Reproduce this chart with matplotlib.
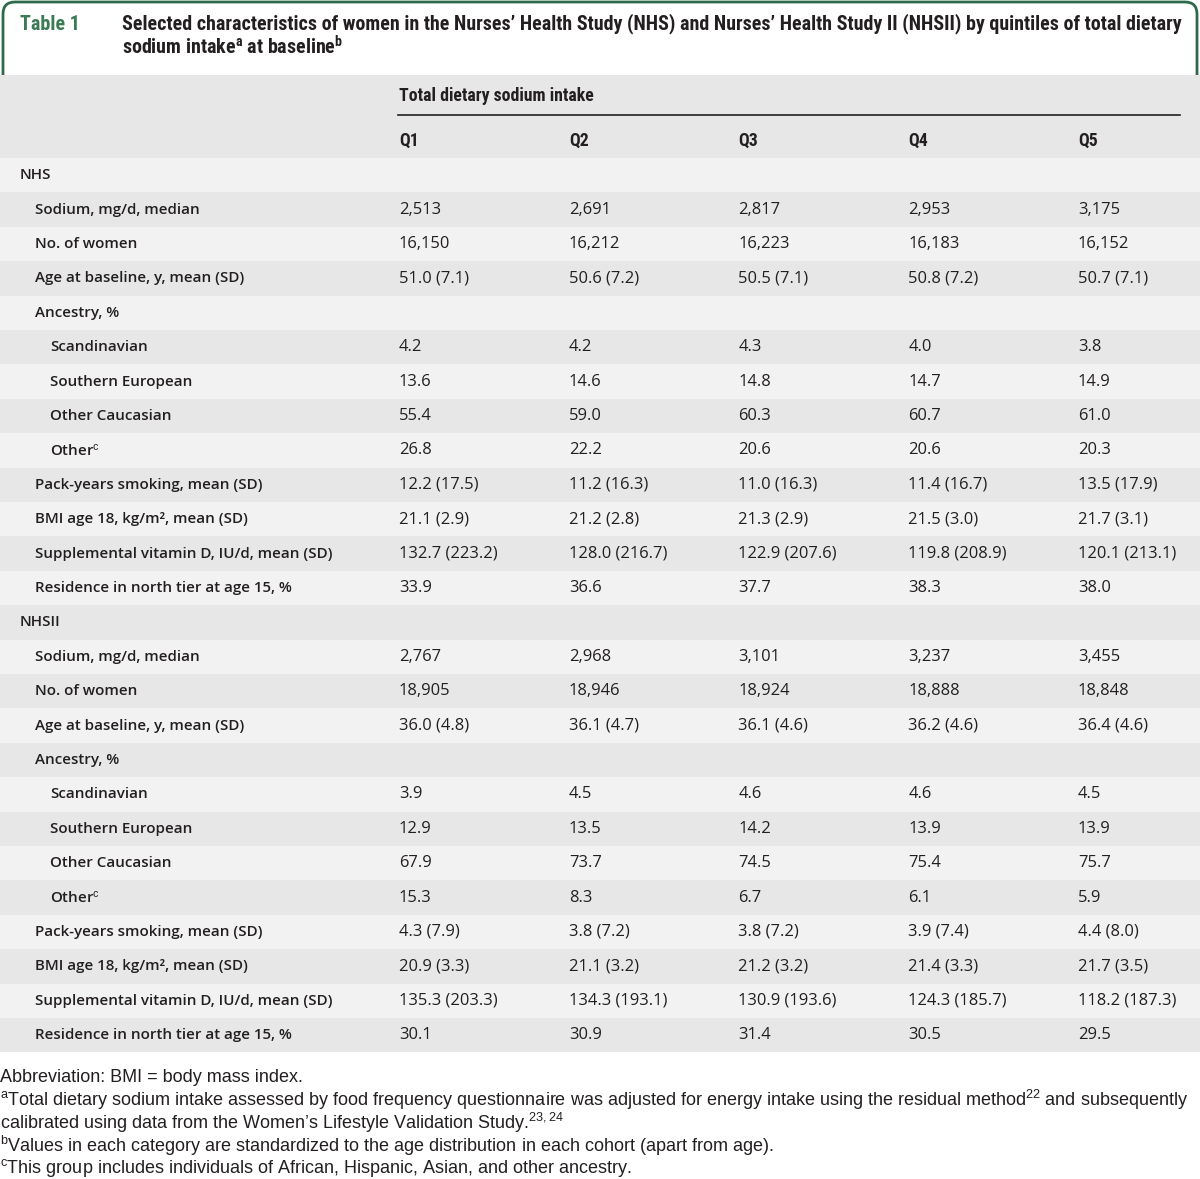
import matplotlib
matplotlib.use("Agg")
import matplotlib.pyplot as plt
import numpy as np
from matplotlib import font_manager
from matplotlib.patches import FancyBboxPatch, Rectangle

available = {f.name for f in font_manager.fontManager.ttflist}


def pick(*names):
    for n in names:
        if n in available:
            return n
    return "DejaVu Sans"


NARROW = pick("Roboto Condensed", "Liberation Sans Narrow", "Liberation Sans")
BODY = pick("Open Sans", "Lato", "Liberation Sans")
LABEL = pick("Open Sans", "Lato", "Liberation Sans")
NOTE = pick("Liberation Sans", "Roboto")

plt.rcParams["mathtext.fontset"] = "custom"
plt.rcParams["mathtext.rm"] = NOTE
plt.rcParams["mathtext.it"] = NOTE
plt.rcParams["mathtext.bf"] = NARROW + ":bold"

# ---- data -------------------------------------------------------------
quintiles = ["Q1", "Q2", "Q3", "Q4", "Q5"]

nhs_sodium = [2513, 2691, 2817, 2953, 3175]
nhs_women = [16150, 16212, 16223, 16183, 16152]
nhs_age = ["51.0 (7.1)", "50.6 (7.2)", "50.5 (7.1)", "50.8 (7.2)", "50.7 (7.1)"]
nhs_scand = [4.2, 4.2, 4.3, 4.0, 3.8]
nhs_south = [13.6, 14.6, 14.8, 14.7, 14.9]
nhs_cauc = [55.4, 59.0, 60.3, 60.7, 61.0]
nhs_other = [26.8, 22.2, 20.6, 20.6, 20.3]
nhs_pack = ["12.2 (17.5)", "11.2 (16.3)", "11.0 (16.3)", "11.4 (16.7)", "13.5 (17.9)"]
nhs_bmi = ["21.1 (2.9)", "21.2 (2.8)", "21.3 (2.9)", "21.5 (3.0)", "21.7 (3.1)"]
nhs_vitd = ["132.7 (223.2)", "128.0 (216.7)", "122.9 (207.6)", "119.8 (208.9)", "120.1 (213.1)"]
nhs_north = [33.9, 36.6, 37.7, 38.3, 38.0]

nhs2_sodium = [2767, 2968, 3101, 3237, 3455]
nhs2_women = [18905, 18946, 18924, 18888, 18848]
nhs2_age = ["36.0 (4.8)", "36.1 (4.7)", "36.1 (4.6)", "36.2 (4.6)", "36.4 (4.6)"]
nhs2_scand = [3.9, 4.5, 4.6, 4.6, 4.5]
nhs2_south = [12.9, 13.5, 14.2, 13.9, 13.9]
nhs2_cauc = [67.9, 73.7, 74.5, 75.4, 75.7]
nhs2_other = [15.3, 8.3, 6.7, 6.1, 5.9]
nhs2_pack = ["4.3 (7.9)", "3.8 (7.2)", "3.8 (7.2)", "3.9 (7.4)", "4.4 (8.0)"]
nhs2_bmi = ["20.9 (3.3)", "21.1 (3.2)", "21.2 (3.2)", "21.4 (3.3)", "21.7 (3.5)"]
nhs2_vitd = ["135.3 (203.3)", "134.3 (193.1)", "130.9 (193.6)", "124.3 (185.7)", "118.2 (187.3)"]
nhs2_north = [30.1, 30.9, 31.4, 30.5, 29.5]


def fmt(vals):
    out = []
    for v in vals:
        if isinstance(v, str):
            out.append(v)
        elif isinstance(v, int):
            out.append(f"{v:,}")
        else:
            out.append(f"{v:.1f}")
    return out


def cohort(name, sodium, women, age, scand, south, cauc, other, pack, bmi, vitd, north):
    return [
        (name, 0, None),
        ("Sodium, mg/d, median", 1, sodium),
        ("No. of women", 1, women),
        ("Age at baseline, y, mean (SD)", 1, age),
        ("Ancestry, %", 1, None),
        ("Scandinavian", 2, scand),
        ("Southern European", 2, south),
        ("Other Caucasian", 2, cauc),
        (r"Other$^{\mathrm{c}}$", 2, other),
        ("Pack-years smoking, mean (SD)", 1, pack),
        ("BMI age 18, kg/m², mean (SD)", 1, bmi),
        ("Supplemental vitamin D, IU/d, mean (SD)", 1, vitd),
        ("Residence in north tier at age 15, %", 1, north),
    ]


rows = cohort("NHS", nhs_sodium, nhs_women, nhs_age, nhs_scand, nhs_south,
              nhs_cauc, nhs_other, nhs_pack, nhs_bmi, nhs_vitd, nhs_north) + \
    cohort("NHSII", nhs2_sodium, nhs2_women, nhs2_age, nhs2_scand, nhs2_south,
           nhs2_cauc, nhs2_other, nhs2_pack, nhs2_bmi, nhs2_vitd, nhs2_north)

footnotes = [
    "Abbreviation: BMI = body mass index.",
    r"$^{\mathrm{a}}$Total dietary sodium intake assessed by food frequency questionnaire was "
    r"adjusted for energy intake using the residual method$^{22}$ and subsequently",
    r"calibrated using data from the Women’s Lifestyle Validation Study.$^{23,24}$",
    r"$^{\mathrm{b}}$Values in each category are standardized to the age distribution in each "
    r"cohort (apart from age).",
    r"$^{\mathrm{c}}$This group includes individuals of African, Hispanic, Asian, and other ancestry.",
]

# ---- style -------------------------------------------------------------
GREEN = "#2d6a4a"
DARK = "#e6e7e6"
LIGHT = "#f2f2f2"
INK = "#231f20"
W, H = 1200, 1179

fig = plt.figure(figsize=(W / 100, H / 100), dpi=100)
ax = fig.add_axes([0, 0, 1, 1])
ax.set_xlim(0, W)
ax.set_ylim(H, 0)
ax.axis("off")

# title box
box = FancyBboxPatch((3, 2), W - 6, 140, boxstyle="round,pad=0,rounding_size=12",
                     facecolor="white", edgecolor=GREEN, linewidth=2.0, zorder=1)
ax.add_patch(box)
ax.text(20, 24, "Table 1", fontfamily=NARROW, fontweight="bold", fontsize=14.5,
        color="#3b7a57", va="center", zorder=5)
ax.text(122, 24, "Selected characteristics of women in the Nurses’ Health Study (NHS) and "
        "Nurses’ Health Study II (NHSII) by quintiles of total dietary",
        fontfamily=NARROW, fontweight="bold", fontsize=14.4, color=INK, va="center", zorder=5)
ax.text(122, 47, r"sodium intake$^{\mathbf{a}}$ at baseline$^{\mathbf{b}}$",
        fontfamily=NARROW, fontweight="bold", fontsize=14.4, color=INK, va="center", zorder=5)

# header
top, header_h, row_h = 75, 83, 34.4
ax.add_patch(Rectangle((0, top), W, header_h, facecolor=DARK, edgecolor="none", zorder=2))
col_x = np.linspace(399, 1078, len(quintiles))
ax.text(col_x[0], 96, "Total dietary sodium intake", fontfamily=NARROW, fontweight="bold",
        fontsize=12.8, color=INK, va="center", zorder=5)
ax.plot([col_x[0] - 1, 1180], [115, 115], color=INK, lw=1.2, zorder=5)
for x, q in zip(col_x, quintiles):
    ax.text(x, 141, q, fontfamily=NARROW, fontweight="bold", fontsize=12.8,
            color=INK, va="center", zorder=5)

# body rows
indent = [20, 35, 50]
y0 = top + header_h
for i, (label, level, vals) in enumerate(rows):
    ytop = y0 + i * row_h
    ax.add_patch(Rectangle((0, ytop), W, row_h, facecolor=DARK if i % 2 else LIGHT,
                           edgecolor="none", zorder=2))
    yc = ytop + row_h / 2
    ax.text(indent[level], yc, label, fontfamily=LABEL, fontweight="semibold",
            fontsize=10.9, color=INK, va="center", zorder=5)
    if vals is not None:
        for x, s in zip(col_x, fmt(vals)):
            ax.text(x, yc, s, fontfamily=BODY, fontsize=11.9, color=INK,
                    va="center", zorder=5)

# footnotes
fy = y0 + len(rows) * row_h + 25
for j, line in enumerate(footnotes):
    ax.text(0, fy + j * 22.7, line, fontfamily=NOTE, fontsize=13.0, color=INK,
            va="center", zorder=5)

fig.savefig("out.png", dpi=100)
